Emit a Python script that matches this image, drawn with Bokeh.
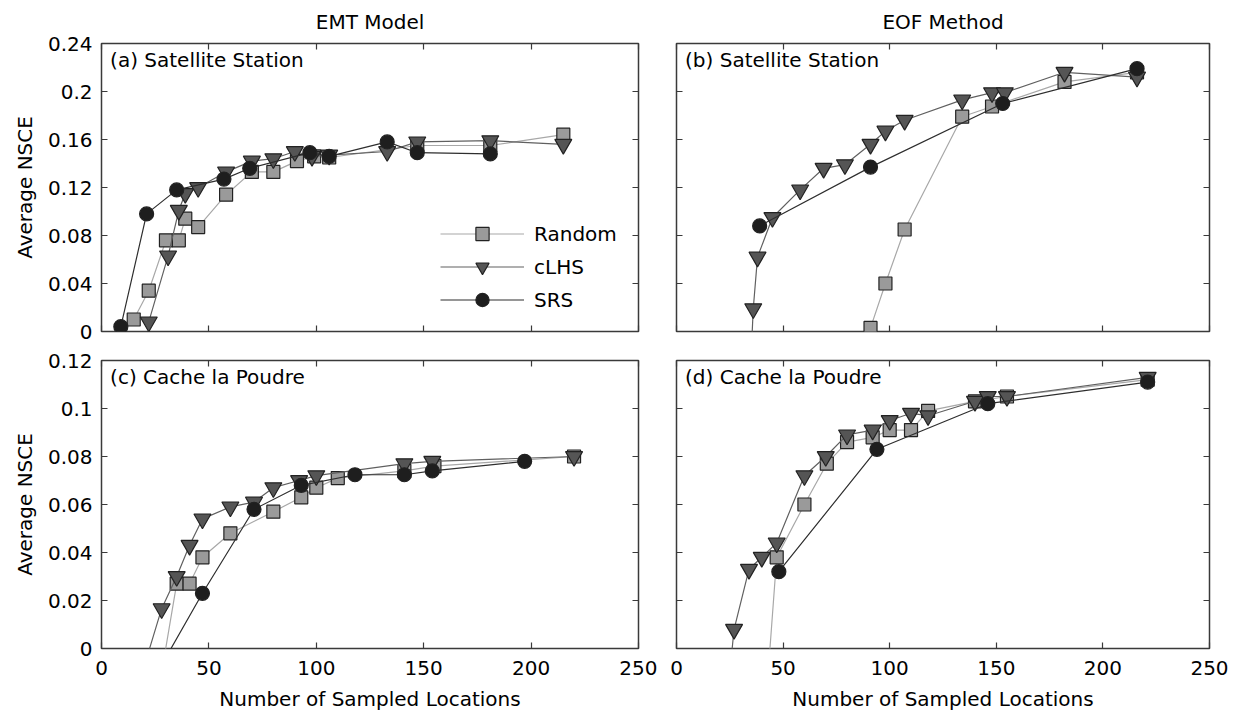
from bokeh.plotting import figure
from bokeh.layouts import gridplot
from bokeh.models import (LinearAxis, FixedTicker, CustomJSTickFormatter, Legend,
                          LegendItem, Range1d)
from bokeh.core.properties import value
from bokeh.embed import file_html
from bokeh.resources import INLINE

# ---------------- data ----------------
x_ticks = [0, 50, 100, 150, 200, 250]
y_ticks_top = [0, 0.04, 0.08, 0.12, 0.16, 0.2, 0.24]
y_ticks_bot = [0, 0.02, 0.04, 0.06, 0.08, 0.1, 0.12]
series_names = ["Random", "cLHS", "SRS"]
col_titles = ["EMT Model", "EOF Method"]
panel_labels = ["(a) Satellite Station", "(b) Satellite Station",
                "(c) Cache la Poudre", "(d) Cache la Poudre"]

# (a) EMT model, Satellite Station
a_rand_x = [15, 22, 30, 36, 39, 45, 58, 70, 80, 91, 99, 106, 147, 181, 215]
a_rand_y = [0.010, 0.034, 0.076, 0.076, 0.094, 0.087, 0.114, 0.133, 0.133, 0.142, 0.146, 0.145, 0.155, 0.155, 0.164]
a_clhs_x = [22, 31, 36, 39, 45, 58, 70, 80, 90, 98, 106, 133, 147, 181, 215]
a_clhs_y = [0.008, 0.063, 0.101, 0.115, 0.120, 0.133, 0.142, 0.144, 0.150, 0.146, 0.147, 0.150, 0.158, 0.159, 0.156]
a_srs_x = [9, 21, 35, 57, 69, 97, 106, 133, 147, 181]
a_srs_y = [0.004, 0.098, 0.118, 0.127, 0.136, 0.149, 0.146, 0.158, 0.149, 0.148]

# (b) EOF method, Satellite Station
b_rand_x = [91, 98, 107, 134, 148, 182, 216]
b_rand_y = [0.003, 0.040, 0.085, 0.179, 0.1875, 0.208, 0.216]
b_clhs_x = [35, 36, 38, 45, 58, 69, 79, 91, 98, 107, 134, 148, 154, 182, 216]
b_clhs_y = [-0.02, 0.019, 0.062, 0.095, 0.118, 0.136, 0.139, 0.156, 0.167, 0.176, 0.193, 0.199, 0.199, 0.216, 0.212]
b_srs_x = [39, 91, 153, 216]
b_srs_y = [0.088, 0.137, 0.190, 0.219]

# (c) EMT model, Cache la Poudre
c_rand_x = [28, 35, 41, 47, 60, 80, 93, 100, 110, 141, 155, 220]
c_rand_y = [-0.01, 0.027, 0.027, 0.038, 0.048, 0.057, 0.063, 0.067, 0.071, 0.074, 0.076, 0.080]
c_clhs_x = [19, 28, 35, 41, 47, 60, 71, 80, 92, 100, 141, 154, 220]
c_clhs_y = [-0.01, 0.0166, 0.030, 0.043, 0.054, 0.059, 0.061, 0.067, 0.070, 0.072, 0.077, 0.078, 0.080]
c_srs_x = [26, 47, 71, 93, 118, 141, 154, 197]
c_srs_y = [-0.01, 0.023, 0.058, 0.068, 0.0724, 0.0724, 0.074, 0.078]

# (d) EOF method, Cache la Poudre
d_rand_x = [43, 47, 60, 70.5, 80, 92, 100, 110, 118, 140, 155, 221]
d_rand_y = [-0.01, 0.038, 0.060, 0.077, 0.086, 0.088, 0.091, 0.091, 0.099, 0.103, 0.105, 0.112]
d_clhs_x = [25, 27, 34, 40, 47, 60, 70, 80, 92, 100, 110, 118, 140, 146, 155, 221]
d_clhs_y = [-0.01, 0.008, 0.033, 0.038, 0.044, 0.072, 0.080, 0.089, 0.091, 0.095, 0.098, 0.097, 0.103, 0.105, 0.105, 0.113]
d_srs_x = [48, 94, 146, 221]
d_srs_y = [0.032, 0.083, 0.102, 0.111]

# ---------------- styling ----------------
FONT = "DejaVu Sans"
FS = "20px"
FRAME = "#3a3a3a"
styles = {
    "Random": dict(line="#a8a8a8", fill="#9a9a9a", marker="square", size=13),
    "cLHS": dict(line="#606060", fill="#555555", marker="inverted_triangle", size=17),
    "SRS": dict(line="#2e2e2e", fill="#1e1e1e", marker="circle", size=14),
}

fmt = CustomJSTickFormatter(code='return tick == 0 ? "0" : String(Number(tick.toFixed(2)));')


def style_axis(ax, ticks, show_labels):
    ax.ticker = FixedTicker(ticks=ticks)
    ax.axis_line_color = None
    ax.major_tick_in = 6
    ax.major_tick_out = 0
    ax.major_tick_line_color = FRAME
    ax.major_tick_line_width = 1.2
    ax.minor_tick_line_color = None
    ax.major_label_text_font = FONT
    ax.major_label_text_color = "black"
    if show_labels:
        ax.formatter = fmt
        ax.major_label_text_font_size = FS
        ax.major_label_standoff = 9
    else:
        ax.formatter = CustomJSTickFormatter(code='return "";')
        ax.major_label_text_font_size = "0px"
        ax.major_label_standoff = 0
    ax.axis_label_text_font = FONT
    ax.axis_label_text_font_size = FS
    ax.axis_label_text_font_style = "normal"
    ax.axis_label_text_color = "black"


def make_panel(data, ymax, yticks, label, left, top_row, title=None, legend=False):
    if left:
        w, bl, br = 657, 101, 19
    else:
        w, bl, br = 572, 19, 20
    if top_row:
        h, bt, bb = 346, 43, 15
    else:
        h, bt, bb = 368, 14, 66
    p = figure(width=w, height=h, x_range=Range1d(0, 250), y_range=Range1d(0, ymax),
               output_backend="svg", toolbar_location=None, title=title,
               min_border_left=bl, min_border_right=br, min_border_top=bt, min_border_bottom=bb)
    if title is not None:
        p.title.align = "center"
        p.title.vertical_align = "top"
        p.title.text_font = FONT
        p.title.text_font_size = FS
        p.title.text_font_style = "normal"
        p.title.text_color = "black"
        p.title.text_line_height = 0.5
        p.title.standoff = 16
    p.grid.visible = False
    p.outline_line_color = FRAME
    p.outline_line_width = 1.5
    p.background_fill_color = "white"
    p.border_fill_color = "white"

    style_axis(p.xaxis[0], x_ticks, not top_row)
    style_axis(p.yaxis[0], yticks, left)
    if not top_row:
        p.xaxis[0].axis_label = "Number of Sampled Locations"
        p.xaxis[0].major_label_standoff = 12
        p.xaxis[0].axis_label_standoff = 9
    if left:
        p.yaxis[0].axis_label = "Average NSCE"
        p.yaxis[0].axis_label_standoff = 8
    ax_top = LinearAxis()
    style_axis(ax_top, x_ticks, False)
    p.add_layout(ax_top, "above")
    ax_right = LinearAxis()
    style_axis(ax_right, yticks, False)
    p.add_layout(ax_right, "right")

    items = []
    for name, (xs, ys) in zip(series_names, data):
        st = styles[name]
        lr = p.line(xs, ys, line_color=st["line"], line_width=1.2)
        sr = p.scatter(xs, ys, marker=st["marker"], size=st["size"], fill_color=st["fill"],
                       line_color="#222222", line_width=1.2)
        items.append(LegendItem(label=name, renderers=[lr, sr]))

    p.text(x=[4], y=[ymax * 0.985], text=[label], text_font=value(FONT), text_font_size=FS,
           text_align="left", text_baseline="top", text_color="black")

    if legend:
        lg = Legend(items=items, location=(339, 15), border_line_color=None,
                    background_fill_alpha=0, padding=0, margin=0, glyph_width=84,
                    glyph_height=33, label_height=20, spacing=-2, label_standoff=10,
                    label_text_font=FONT, label_text_font_size=FS, label_text_color="black")
        p.add_layout(lg)
    return p


pa = make_panel([(a_rand_x, a_rand_y), (a_clhs_x, a_clhs_y), (a_srs_x, a_srs_y)],
                0.24, y_ticks_top, panel_labels[0], True, True, col_titles[0], legend=True)
pb = make_panel([(b_rand_x, b_rand_y), (b_clhs_x, b_clhs_y), (b_srs_x, b_srs_y)],
                0.24, y_ticks_top, panel_labels[1], False, True, col_titles[1])
pc = make_panel([(c_rand_x, c_rand_y), (c_clhs_x, c_clhs_y), (c_srs_x, c_srs_y)],
                0.12, y_ticks_bot, panel_labels[2], True, False)
pd = make_panel([(d_rand_x, d_rand_y), (d_clhs_x, d_clhs_y), (d_srs_x, d_srs_y)],
                0.12, y_ticks_bot, panel_labels[3], False, False)

grid = gridplot([[pa, pb], [pc, pd]], toolbar_location=None)
open("out.html", "w").write(file_html(grid, INLINE))
